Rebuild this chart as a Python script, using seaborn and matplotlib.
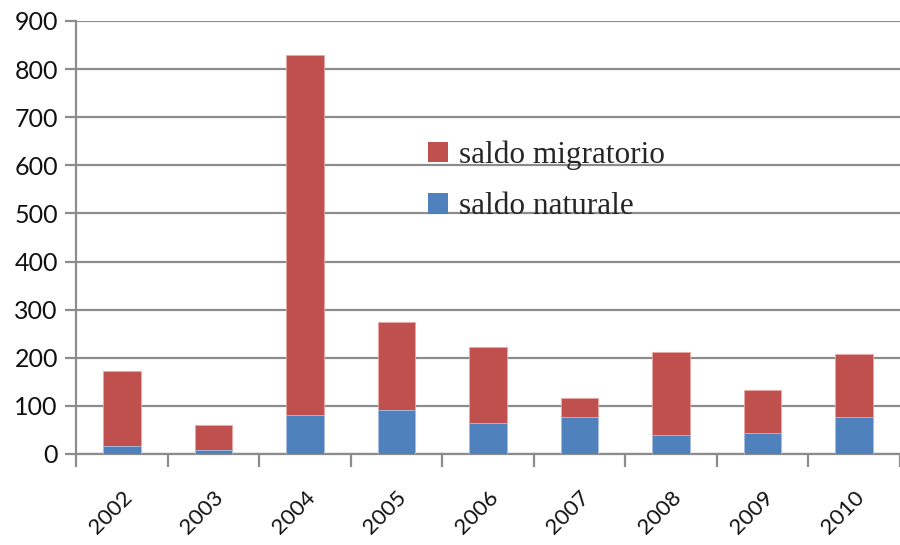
import matplotlib
matplotlib.use("Agg")
import matplotlib.pyplot as plt
import seaborn as sns
import pandas as pd
from matplotlib.patches import Patch

# values
years = ["2002", "2003", "2004", "2005", "2006", "2007", "2008", "2009", "2010"]
saldo_naturale = [17, 8, 80, 92, 64, 76, 40, 44, 76]
saldo_migratorio = [156, 52, 750, 183, 159, 40, 171, 88, 131]

RED = "#C0504D"
BLUE = "#4F81BD"
GRID = "#8C8C8C"

df = pd.DataFrame({"anno": years,
                   "naturale": saldo_naturale,
                   "migratorio": saldo_migratorio})
df["totale"] = df["naturale"] + df["migratorio"]

sns.set_style("white")
plt.rcParams["font.family"] = ["Lato", "DejaVu Sans"]

fig = plt.figure(figsize=(9, 5.45), dpi=100)
ax = fig.add_axes([0.0844, 0.167, 0.9156, 0.7945])

# stacked bars: total (red) behind, natural balance (blue) in front
sns.barplot(data=df, x="anno", y="totale", color=RED, width=0.41,
            edgecolor="#E8A8A6", linewidth=0.6, saturation=1, ax=ax, zorder=3)
sns.barplot(data=df, x="anno", y="naturale", color=BLUE, width=0.41,
            edgecolor="#A9C3E6", linewidth=0.6, saturation=1, ax=ax, zorder=4)

ax.set_xlim(-0.5, len(years) - 0.5)
ax.set_ylim(0, 900)
ax.set_yticks(range(0, 901, 100))
ax.set_xlabel("")
ax.set_ylabel("")

ax.yaxis.grid(True, color=GRID, linewidth=1.6)
ax.set_axisbelow(True)
for side in ["top", "right"]:
    ax.spines[side].set_visible(False)
ax.spines["left"].set_color(GRID)
ax.spines["left"].set_linewidth(1.6)
ax.spines["bottom"].set_color(GRID)
ax.spines["bottom"].set_linewidth(1.6)

# y ticks outward, x tick marks on category boundaries
ax.tick_params(axis="y", which="major", left=True, length=8, width=1.6,
               color=GRID, labelsize=18, pad=5, labelcolor="#111111")
ax.set_xticks(range(len(years)))
ax.set_xticklabels(years, rotation=45, ha="right", rotation_mode="anchor",
                   fontsize=16, color="#111111")
ax.tick_params(axis="x", which="major", length=0, pad=24)
ax.set_xticks([i - 0.5 for i in range(len(years) + 1)], minor=True)
ax.tick_params(axis="x", which="minor", bottom=True, length=9, width=1.6,
               color=GRID)

handles = [Patch(facecolor=RED, edgecolor="none", label="saldo migratorio"),
           Patch(facecolor=BLUE, edgecolor="none", label="saldo naturale")]
ax.legend(handles=handles, loc="upper left", bbox_to_anchor=(0.393, 0.789),
          frameon=False, prop={"family": "Liberation Serif", "size": 22.5},
          handlelength=0.65, handleheight=0.65, handletextpad=0.35,
          labelspacing=0.72)

fig.savefig("out.png", dpi=100, facecolor="white")
